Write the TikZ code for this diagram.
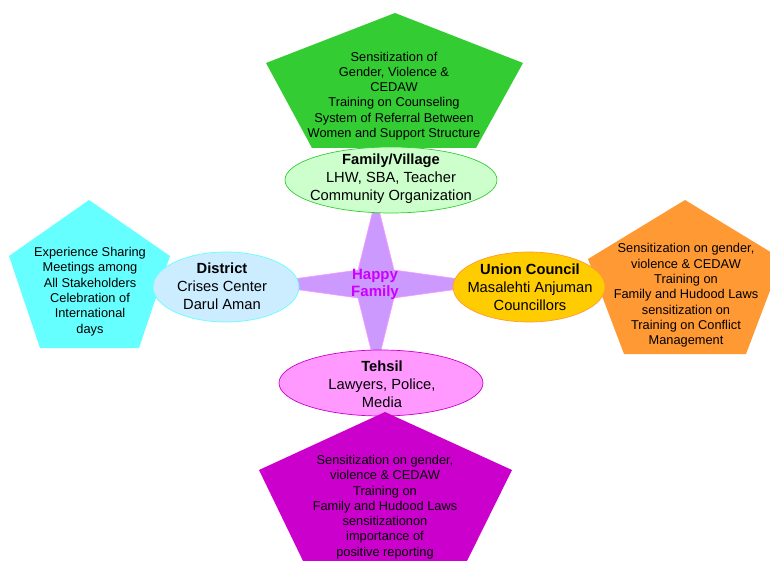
\documentclass[tikz,border=0pt]{standalone}
\usepackage{fontspec}
\setmainfont{Liberation Sans}
\usetikzlibrary{shapes.geometric}
\definecolor{pgreen}{HTML}{33CC33}
\definecolor{lgreen}{HTML}{CCFFCC}
\definecolor{pcyan}{HTML}{66FFFF}
\definecolor{lblue}{HTML}{CCECFF}
\definecolor{porange}{HTML}{FF9933}
\definecolor{pyellow}{HTML}{FFCC00}
\definecolor{pmagenta}{HTML}{CC00CC}
\definecolor{lpink}{HTML}{FF99FF}
\definecolor{starfill}{HTML}{CC99FF}
\definecolor{startext}{HTML}{CC00FF}
\begin{document}
\begin{tikzpicture}[x=1pt,y=-1pt,
  penttext/.style={align=center, inner sep=0pt, font=\fontsize{12.8}{15.3}\selectfont},
  ellbox/.style={ellipse, draw, line width=0.7pt, inner sep=0pt},
  elltext/.style={align=center, inner sep=0pt, font=\fontsize{14.7}{18}\selectfont},
  pentshape/.style={line width=0pt}
]
\path[use as bounding box] (0,0) rectangle (770,561);
\clip (0,0) rectangle (770,561);
% star
\fill[starfill, draw=lpink, line width=0.6pt] (376,198) -- (394,270) -- (495,284) -- (394,298) -- (376,370) -- (358,298) -- (257,284) -- (358,270) -- cycle;
% pentagons
\fill[pgreen] (395,13) -- (523,63) -- (476,148) -- (312,148) -- (266,63) -- cycle;
\fill[pcyan] (89,200) -- (170,256) -- (139,348) -- (40,348) -- (9,256) -- cycle;
\fill[porange] (685,200) -- (782,259) -- (746,354) -- (624,354) -- (588,259) -- cycle;
% ellipses
\node[ellbox, fill=lgreen, draw=pgreen, minimum width=212pt, minimum height=66pt] (famE) at (391,180) {};
\node[ellbox, fill=lblue, draw=pcyan, minimum width=146pt, minimum height=70pt] (disE) at (226,287) {};
\node[ellbox, fill=pyellow, draw=porange, minimum width=152pt, minimum height=70pt] (ucE) at (529,287) {};
\node[ellbox, fill=lpink, draw=pmagenta, minimum width=204pt, minimum height=66pt] (tehE) at (381,383) {};
% magenta pentagon on top
\fill[pmagenta] (385,412) -- (512,470) -- (465,565) -- (305,565) -- (259,470) -- cycle;
% texts
\node[penttext] (gT) at (394,96) {Sensitization of\\Gender, Violence \&\\CEDAW\\Training on Counseling\\System of Referral Between\\Women and Support Structure};
\node[penttext] (cT) at (90,291.5) {Experience Sharing\\Meetings among\\All Stakeholders\\Celebration of\\International\\days};
\node[penttext] (oT) at (686,295.5) {Sensitization on gender,\\violence \& CEDAW\\Training on\\Family and Hudood Laws\\sensitization on\\Training on Conflict\\Management};
\node[penttext] (mT) at (385,507) {Sensitization on gender,\\violence \& CEDAW\\Training on\\Family and Hudood Laws\\sensitizationon\\importance of\\positive reporting};
\node[elltext] (famT) at (391,179) {\textbf{Family/Village}\\LHW, SBA, Teacher\\Community Organization};
\node[elltext] (disT) at (222,286.5) {\textbf{District}\\Crises Center\\Darul Aman};
\node[elltext] (ucT) at (530,287.5) {\textbf{Union Council}\\Masalehti Anjuman\\Councillors};
\node[elltext] (tehT) at (382,384) {\textbf{Tehsil}\\Lawyers, Police,\\Media};
\node[align=center, inner sep=0pt, text=startext, font=\bfseries\fontsize{15}{17}\selectfont] (hT) at (375,284.5) {Happy\\Family};
\end{tikzpicture}
\end{document}
